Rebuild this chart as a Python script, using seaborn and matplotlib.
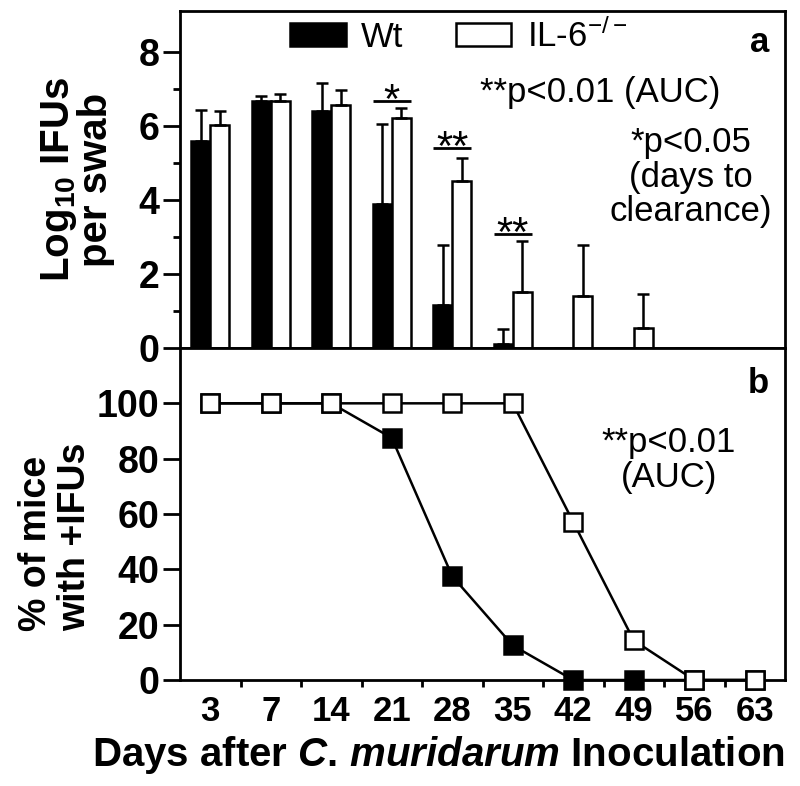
import numpy as np
import pandas as pd
import matplotlib
matplotlib.use("Agg")
import matplotlib.pyplot as plt
import seaborn as sns
from matplotlib.patches import Patch
from matplotlib.ticker import FixedLocator

# ---------------- data ----------------
days = ['3', '7', '14', '21', '28', '35', '42', '49', '56', '63']
strains = ['Wt', 'IL-6']
legend_labels = ['Wt', r'IL-6$^{\mathrm{-/-}}$']

wt_log = [5.59, 6.66, 6.39, 3.90, 1.15, 0.12, 0.0, 0.0, 0.0, 0.0]
wt_log_sd = [0.85, 0.14, 0.77, 2.15, 1.63, 0.40, 0.0, 0.0, 0.0, 0.0]
il6_log = [6.02, 6.66, 6.56, 6.20, 4.52, 1.51, 1.40, 0.53, 0.0, 0.0]
il6_log_sd = [0.39, 0.20, 0.42, 0.27, 0.60, 1.39, 1.38, 0.93, 0.0, 0.0]

wt_pct = [100, 100, 100, 87.5, 37.5, 12.5, 0, 0, 0, 0]
il6_pct = [100, 100, 100, 100, 100, 100, 57.1, 14.3, 0, 0]

sig_days = ['21', '28', '35']
sig_marks = ['*', '**', '**']
sig_levels = [6.67, 5.39, 3.08]

top_yticks = [0, 2, 4, 6, 8]
top_yminor = [1, 3, 5, 7]
bot_yticks = [0, 20, 40, 60, 80, 100]

colors = {'Wt': 'black', 'IL-6': 'white'}

# ---------------- style ----------------
sns.set_style('ticks')
plt.rcParams['font.family'] = ['Liberation Sans', 'DejaVu Sans']
plt.rcParams['mathtext.fontset'] = 'custom'
plt.rcParams['mathtext.rm'] = 'Liberation Sans'
plt.rcParams['mathtext.bf'] = 'Liberation Sans:bold'
plt.rcParams['mathtext.it'] = 'Liberation Sans:italic:bold'
for key in ['axes.edgecolor', 'text.color', 'axes.labelcolor',
            'xtick.color', 'ytick.color']:
    plt.rcParams[key] = 'black'

LW = 2.0

fig = plt.figure(figsize=(8, 7.86), dpi=100)
ax1 = fig.add_axes([0.225, 438 / 786, 605 / 800, 337 / 786])
ax2 = fig.add_axes([0.225, 106 / 786, 605 / 800, 332 / 786])

# ---------------- top panel: bars ----------------
df = pd.DataFrame({
    'day': days * 2,
    'strain': ['Wt'] * len(days) + ['IL-6'] * len(days),
    'log': wt_log + il6_log,
})
sns.barplot(data=df, x='day', y='log', hue='strain', order=days,
            hue_order=strains, palette=colors, saturation=1,
            edgecolor='black', linewidth=1.8, width=0.62,
            errorbar=None, legend=False, ax=ax1)

for cont, sds in zip(ax1.containers, [wt_log_sd, il6_log_sd]):
    xs, hs, es = [], [], []
    for p, s in zip(cont, sds):
        if s > 0:
            xs.append(p.get_x() + p.get_width() / 2)
            hs.append(p.get_height())
            es.append(s)
    ax1.errorbar(xs, hs, yerr=[np.zeros(len(es)), es], fmt='none',
                 ecolor='black', elinewidth=1.8, capsize=4, capthick=1.8,
                 zorder=1)

for d, m, lvl in zip(sig_days, sig_marks, sig_levels):
    i = days.index(d)
    p0 = ax1.containers[0][i]
    p1 = ax1.containers[1][i]
    x0 = p0.get_x()
    x1 = p1.get_x() + p1.get_width()
    ax1.plot([x0, x1], [lvl, lvl], color='black', lw=LW, solid_capstyle='butt')
    ax1.annotate(m, xy=((x0 + x1) / 2, lvl), xytext=(0, -8.5),
                 textcoords='offset points', ha='center', va='baseline',
                 fontsize=30)

ax1.set_xlim(-0.5, len(days) - 0.5)
ax1.set_ylim(0, 9.1)
ax1.yaxis.set_major_locator(FixedLocator(top_yticks))
ax1.yaxis.set_minor_locator(FixedLocator(top_yminor))
ax1.xaxis.set_minor_locator(FixedLocator(np.arange(0.5, len(days) - 1, 1)))
ax1.tick_params(axis='x', which='major', length=0, labelbottom=False)
ax1.tick_params(axis='x', which='minor', length=5, width=LW, direction='out')
ax1.tick_params(axis='y', which='major', length=12, width=LW, pad=3,
                labelsize=27, direction='out')
ax1.tick_params(axis='y', which='minor', length=5, width=LW, direction='out')
for lab in ax1.get_yticklabels():
    lab.set_fontweight('bold')
ax1.set_xlabel('')
ax1.set_ylabel(r'Log$_{\mathbf{10}}$ IFUs' + '\nper swab', fontsize=29,
               fontweight='bold', linespacing=0.95)
ax1.yaxis.set_label_coords(-0.107, 0.5)

handles = [Patch(facecolor=colors[s], edgecolor='black', linewidth=1.8)
           for s in strains]
ax1.legend(handles, legend_labels, loc='center left',
           bbox_to_anchor=((290 - 180) / 605, (348 - 36) / 337),
           ncol=2, frameon=False, fontsize=25, handlelength=1.6,
           handleheight=0.65, handletextpad=0.45, columnspacing=1.5,
           borderpad=0, borderaxespad=0)

ax1.text((769 - 180) / 605, (348 - 52) / 337, 'a', transform=ax1.transAxes,
         ha='right', va='baseline', fontsize=25, fontweight='bold')
ax1.text((600 - 180) / 605, (348 - 102) / 337, '**p<0.01 (AUC)',
         transform=ax1.transAxes, ha='center', va='baseline', fontsize=25)
ax1.text((691 - 180) / 605, (348 - 177) / 337, '*p<0.05\n(days to\nclearance)',
         transform=ax1.transAxes, ha='center', va='center', fontsize=25,
         linespacing=1.05)

# ---------------- bottom panel: lines ----------------
sns.pointplot(x=days, y=wt_pct, order=days, color='black', markers='s',
              linestyles='-', errorbar=None, markersize=13, linewidth=1.8,
              markeredgewidth=1.8, markerfacecolor='black',
              markeredgecolor='black', ax=ax2)
sns.pointplot(x=days, y=il6_pct, order=days, color='black', markers='s',
              linestyles='-', errorbar=None, markersize=13, linewidth=1.8,
              markeredgewidth=1.8, markerfacecolor='white',
              markeredgecolor='black', ax=ax2)
for k, ln in enumerate(ax2.lines):
    ln.set_clip_on(False)
    ln.set_zorder(5 + k)

ax2.set_xlim(-0.5, len(days) - 0.5)
ax2.set_ylim(0, 120)
ax2.yaxis.set_major_locator(FixedLocator(bot_yticks))
ax2.xaxis.set_minor_locator(FixedLocator(np.arange(0.5, len(days) - 1, 1)))
ax2.tick_params(axis='x', which='major', length=0, pad=11, labelsize=25)
ax2.tick_params(axis='x', which='minor', length=5, width=LW, direction='out')
ax2.tick_params(axis='y', which='major', length=12, width=LW, pad=3,
                labelsize=27, direction='out')
for lab in ax2.get_yticklabels() + ax2.get_xticklabels():
    lab.set_fontweight('bold')
ax2.set_xlabel(r'Days after $C$. $muridarum$ Inoculation', fontsize=29,
               fontweight='bold', loc='right', labelpad=4)
ax2.set_ylabel('% of mice\nwith +IFUs', fontsize=27, fontweight='bold',
               linespacing=1.1, multialignment='left')
ax2.yaxis.set_label_coords(-0.144, 0.431)

ax2.text((769 - 180) / 605, (680 - 393) / 332, 'b', transform=ax2.transAxes,
         ha='right', va='baseline', fontsize=25, fontweight='bold')
ax2.text((669 - 180) / 605, (680 - 460) / 332, '**p<0.01\n(AUC)',
         transform=ax2.transAxes, ha='center', va='center', fontsize=25,
         linespacing=1.1)

for ax in (ax1, ax2):
    for sp in ax.spines.values():
        sp.set_linewidth(LW)
        sp.set_color('black')
        sp.set_visible(True)

fig.savefig('out.png', dpi=100)
